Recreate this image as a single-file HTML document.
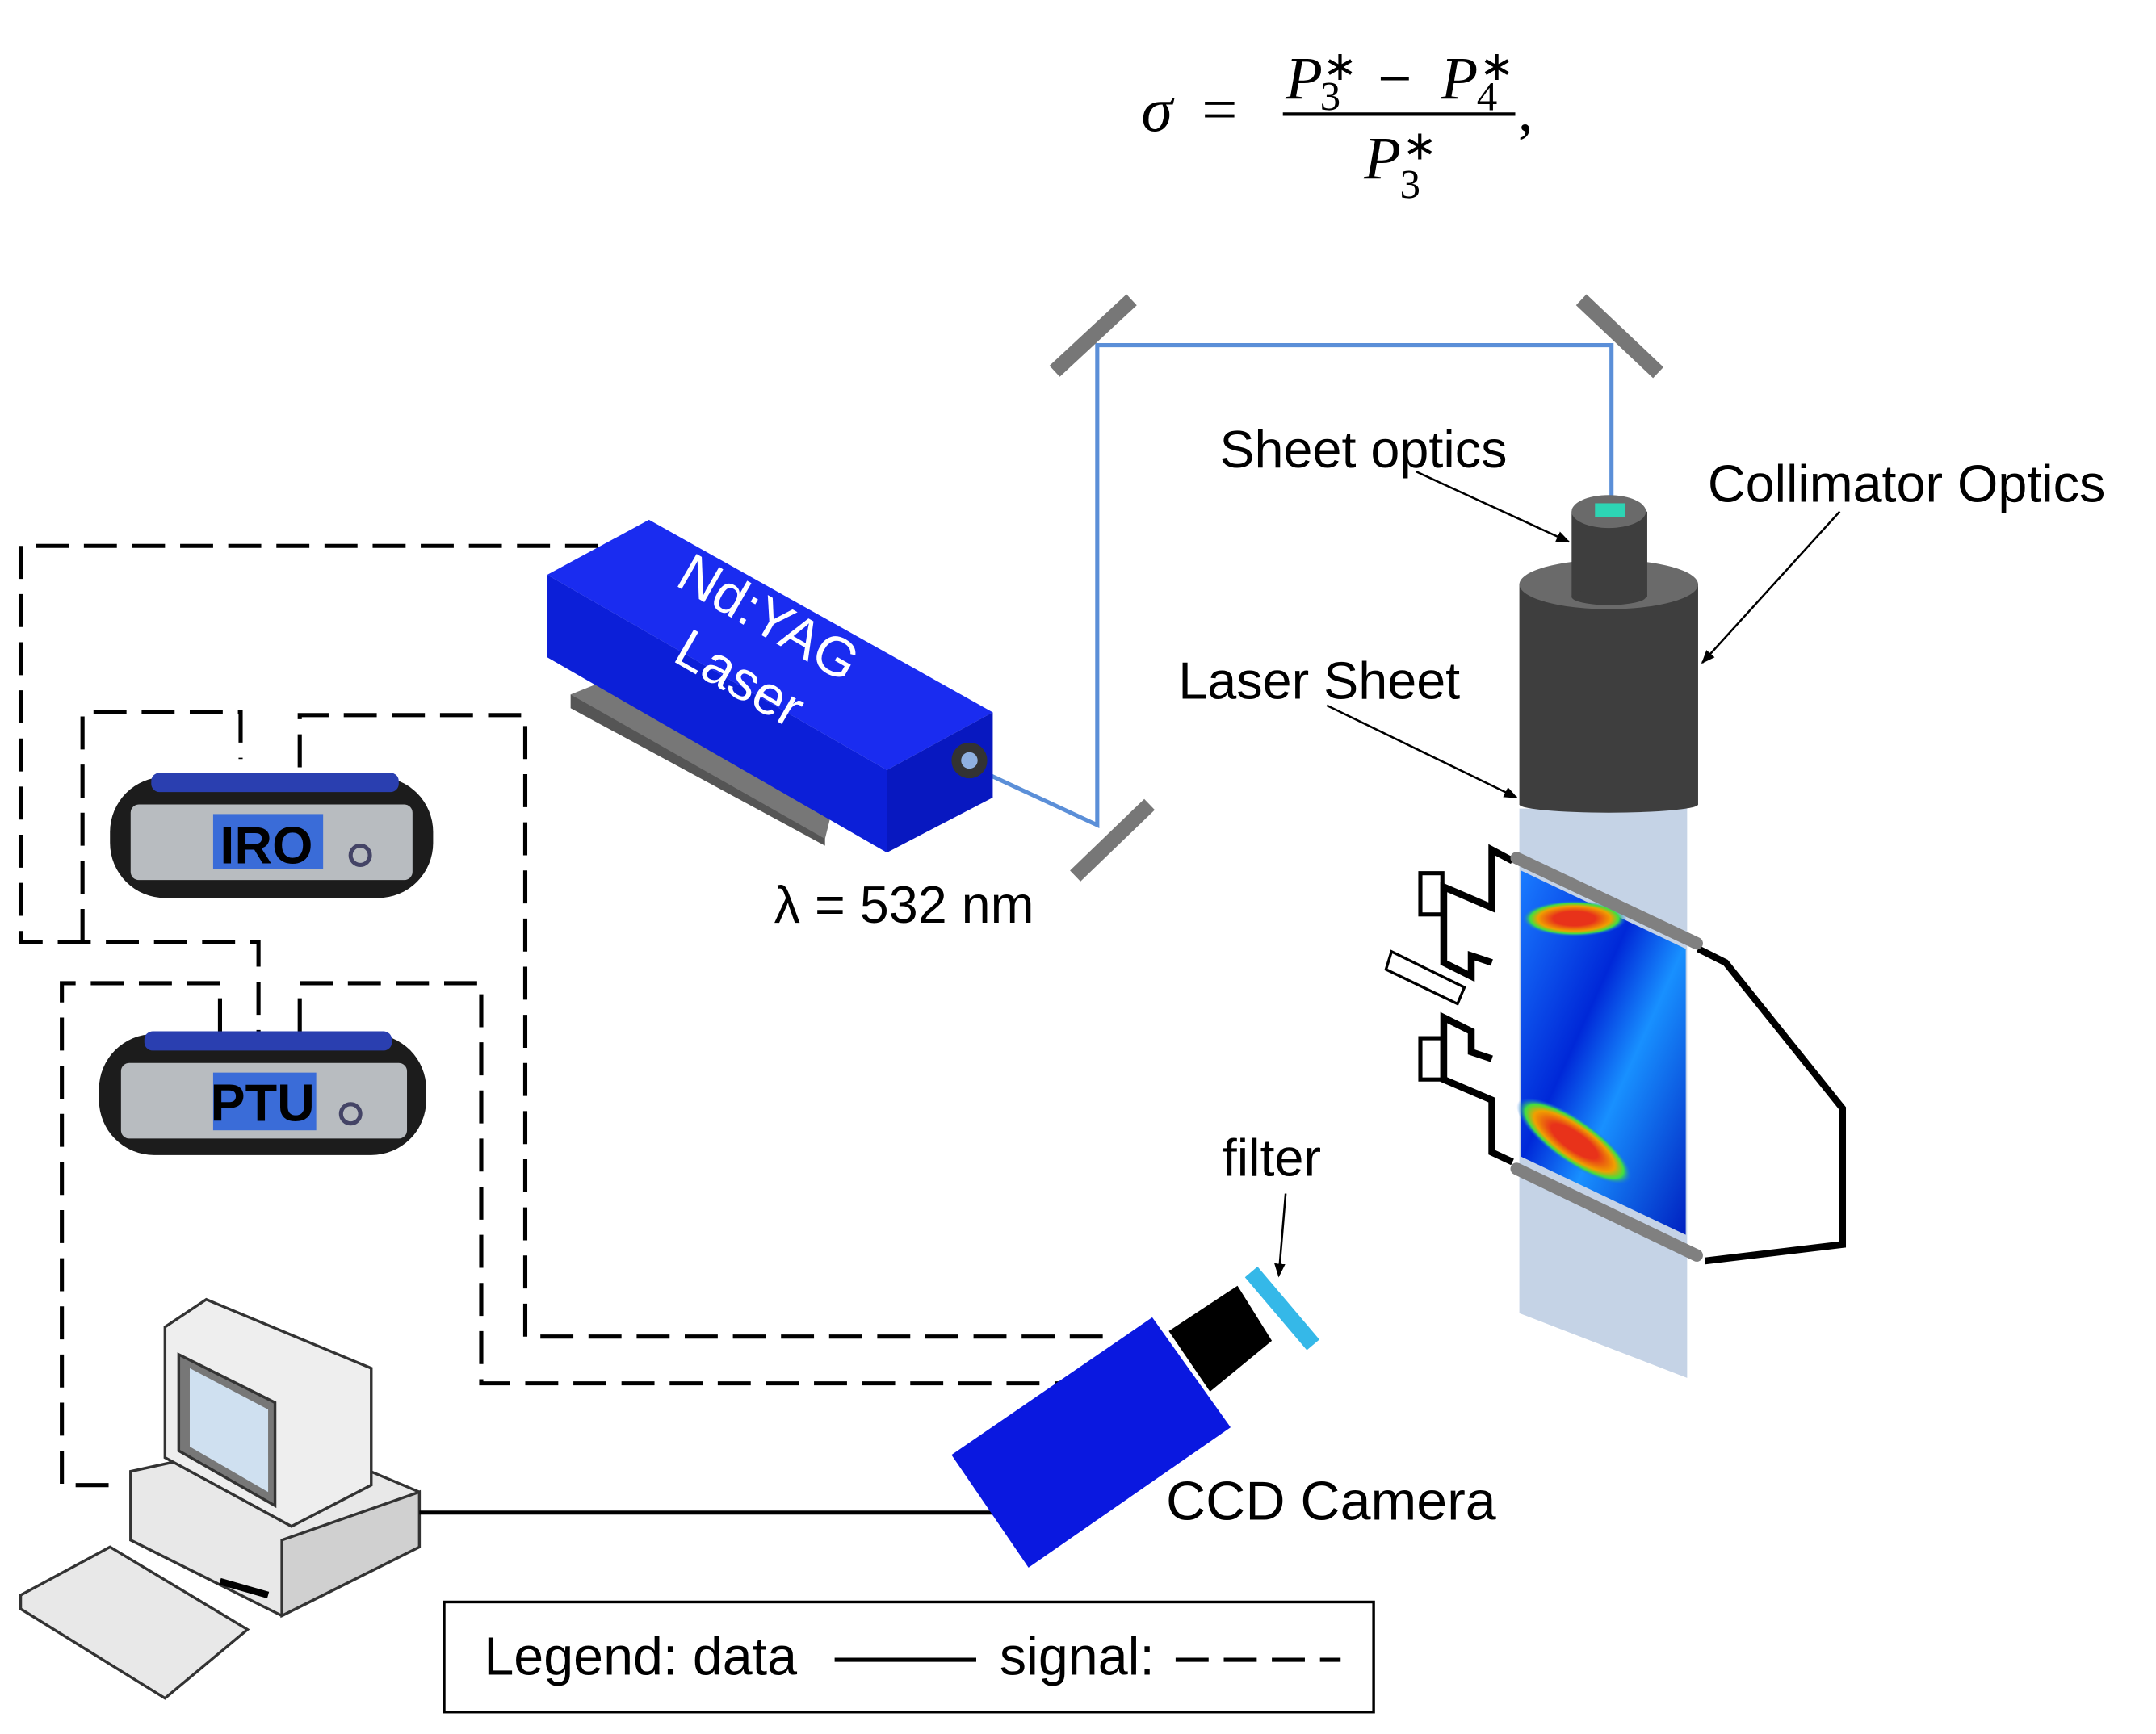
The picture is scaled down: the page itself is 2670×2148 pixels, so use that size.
<!DOCTYPE html>
<html><head><meta charset="utf-8"><style>
html,body{margin:0;padding:0;background:#fff}
svg{display:block}
text{font-family:"Liberation Sans",sans-serif}
text.m{font-family:"Liberation Serif",serif}
</style></head><body>
<svg width="2670" height="2148" viewBox="0 0 1568 1261" preserveAspectRatio="none" xmlns="http://www.w3.org/2000/svg">
<defs>
<marker id="ah" markerWidth="10" markerHeight="8" refX="9" refY="4" orient="auto" markerUnits="userSpaceOnUse">
<path d="M0,0 L10,4 L0,8 z" fill="#000"/></marker>
<radialGradient id="red1" cx="0.5" cy="0.5" r="0.5"><stop offset="0.4" stop-color="#e8321a"/><stop offset="0.7" stop-color="#f0a000"/><stop offset="0.85" stop-color="#40e040"/><stop offset="1" stop-color="#1060ff" stop-opacity="0"/></radialGradient>
<linearGradient id="flow" x1="0" y1="0" x2="1" y2="1"><stop offset="0" stop-color="#1a7cff"/><stop offset="0.4" stop-color="#0028d8"/><stop offset="0.6" stop-color="#1890ff"/><stop offset="1" stop-color="#0020c0"/></linearGradient>
</defs>

<!-- formula -->
<text class="m" x="830" y="95" font-style="italic" font-size="46">σ</text>
<text class="m" x="874" y="95" font-size="46">=</text>
<text class="m" x="935" y="72" font-style="italic" font-size="44">P</text>
<text class="m" x="962" y="58" font-size="30">∗</text>
<text class="m" x="960" y="80" font-size="30">3</text>
<text class="m" x="1002" y="72" font-size="44">−</text>
<text class="m" x="1048" y="72" font-style="italic" font-size="44">P</text>
<text class="m" x="1076" y="58" font-size="30">∗</text>
<text class="m" x="1074" y="80" font-size="30">4</text>
<line x1="933" y1="83" x2="1102" y2="83" stroke="#000" stroke-width="2.5"/>
<text class="m" x="992" y="130" font-style="italic" font-size="44">P</text>
<text class="m" x="1020" y="116" font-size="30">∗</text>
<text class="m" x="1018" y="144" font-size="30">3</text>
<text class="m" x="1104" y="95" font-size="44">,</text>

<!-- beam -->
<polyline points="712,560 798,600 798,251 1172,251 1172,370" fill="none" stroke="#5b8fd8" stroke-width="3"/>
<g stroke="#777" stroke-width="11">
<line x1="767" y1="270" x2="823" y2="218"/>
<line x1="1150" y1="218" x2="1206" y2="271"/>
<line x1="782" y1="637" x2="836" y2="585"/>
</g>

<!-- laser sheet -->
<polygon points="1105,588 1227,588 1227,1002 1105,955" fill="#c5d3e6"/>
<rect x="1105" y="425" width="130" height="160" fill="#3e3e3e"/>
<ellipse cx="1170" cy="585" rx="65" ry="6" fill="#3e3e3e"/>
<ellipse cx="1170" cy="425" rx="65" ry="18" fill="#6a6a6a"/>
<rect x="1143" y="372" width="55" height="62" fill="#3e3e3e"/>
<ellipse cx="1170" cy="434" rx="27" ry="6" fill="#3e3e3e"/>
<ellipse cx="1170" cy="372" rx="27" ry="12" fill="#6a6a6a"/>
<rect x="1160" y="366" width="22" height="10" fill="#2dd4b4"/>

<!-- combustor -->
<polygon points="1106,633 1226,690 1226,898 1106,841" fill="url(#flow)"/>
<ellipse cx="1145" cy="668" rx="38" ry="13" fill="url(#red1)"/>
<ellipse cx="1145" cy="830" rx="50" ry="16" transform="rotate(35 1145 830)" fill="url(#red1)"/>
<polyline points="1235,690 1255,700 1340,806 1340,905 1240,917" fill="none" stroke="#000" stroke-width="5"/>
<polyline points="1100,626 1085,618 1085,660 1050,645 1050,700 1070,710 1070,695 1085,700" fill="none" stroke="#000" stroke-width="5"/>
<polyline points="1100,845 1085,838 1085,800 1050,785 1050,740 1070,750 1070,765 1085,770" fill="none" stroke="#000" stroke-width="5"/>
<rect x="1033" y="635" width="16" height="30" fill="none" stroke="#000" stroke-width="3"/>
<rect x="1033" y="755" width="16" height="30" fill="none" stroke="#000" stroke-width="3"/>
<polygon points="1012,692 1008,705 1060,730 1065,718" fill="none" stroke="#000" stroke-width="2"/>
<g stroke="#808080" stroke-width="9" stroke-linecap="round">
<line x1="1103" y1="624" x2="1234" y2="686"/>
<line x1="1103" y1="850" x2="1234" y2="913"/>
</g>

<!-- laser box -->
<polygon points="415,505 600,605 600,615 415,515" fill="#555"/>
<polygon points="415,505 440,495 605,590 600,610" fill="#777"/>
<polygon points="398,418 472,378 722,518 645,560" fill="#1a2cf0"/>
<polygon points="398,418 645,560 645,620 398,478" fill="#0c1fd8"/>
<polygon points="645,560 722,518 722,580 645,620" fill="#0818c0"/>
<circle cx="705" cy="553" r="13" fill="#333"/>
<circle cx="705" cy="553" r="6" fill="#8fb0e0"/>
<text x="490" y="425" fill="#fff" font-size="40" transform="rotate(30 490 425)">Nd:YAG</text>
<text x="488" y="480" fill="#fff" font-size="40" transform="rotate(30 488 480)">Laser</text>
<text x="563" y="671" font-size="38">λ = 532 nm</text>

<!-- dashed signal lines -->
<g fill="none" stroke="#000" stroke-width="3" stroke-dasharray="24,11">
<polyline points="435,397 15,397 15,685 188,685 188,752"/>
<polyline points="60,685 60,518 175,518 175,552"/>
<polyline points="218,558 218,520 382,520 382,972 812,972"/>
<polyline points="160,750 160,715 45,715 45,1080 82,1080"/>
<polyline points="218,750 218,715 350,715 350,1006 772,1006"/>
</g>

<!-- IRO -->
<rect x="80" y="565" width="235" height="88" rx="40" fill="#1c1c1c"/>
<rect x="110" y="562" width="180" height="14" rx="6" fill="#2a3fb0"/>
<rect x="95" y="585" width="205" height="55" rx="6" fill="#b8bcc0"/>
<rect x="155" y="592" width="80" height="40" fill="#3a6cd8"/>
<text x="160" y="628" font-size="38" font-weight="bold" fill="#000">IRO</text>
<circle cx="262" cy="622" r="7" fill="none" stroke="#446" stroke-width="3"/>
<!-- PTU -->
<rect x="72" y="752" width="238" height="88" rx="40" fill="#1c1c1c"/>
<rect x="105" y="750" width="180" height="14" rx="6" fill="#2a3fb0"/>
<rect x="88" y="773" width="208" height="55" rx="6" fill="#b8bcc0"/>
<rect x="155" y="780" width="75" height="42" fill="#3a6cd8"/>
<text x="153" y="815" font-size="38" font-weight="bold" fill="#000">PTU</text>
<circle cx="255" cy="810" r="7" fill="none" stroke="#446" stroke-width="3"/>

<!-- computer -->
<polygon points="95,1070 210,1045 305,1085 305,1125 205,1175 95,1120" fill="#e8e8e8" stroke="#333" stroke-width="2"/>
<polygon points="205,1120 305,1085 305,1125 205,1175" fill="#d0d0d0" stroke="#333" stroke-width="2"/>
<polygon points="120,965 150,945 270,995 270,1080 212,1110 120,1060" fill="#eee" stroke="#333" stroke-width="2"/>
<polygon points="130,985 200,1020 200,1095 130,1055" fill="#777" stroke="#333" stroke-width="2"/>
<polygon points="138,995 195,1025 195,1085 138,1052" fill="#cfe0f0"/>
<polygon points="15,1160 80,1125 180,1185 120,1235 15,1170" fill="#e8e8e8" stroke="#333" stroke-width="2"/>
<line x1="160" y1="1150" x2="195" y2="1160" stroke="#000" stroke-width="5"/>

<line x1="305" y1="1100" x2="722" y2="1100" stroke="#000" stroke-width="3"/>

<!-- camera -->
<polygon points="692,1058 838,958 895,1038 748,1140" fill="#0a18e0"/>
<polygon points="850,968 900,935 925,975 880,1012" fill="#000"/>
<line x1="910" y1="925" x2="955" y2="978" stroke="#35b8e8" stroke-width="12"/>

<!-- labels -->
<text x="887" y="340" font-size="38">Sheet optics</text>
<line x1="1030" y1="343" x2="1141" y2="394" stroke="#000" stroke-width="1.5" marker-end="url(#ah)"/>
<text x="1242" y="365" font-size="38">Collimator Optics</text>
<line x1="1338" y1="372" x2="1238" y2="482" stroke="#000" stroke-width="1.5" marker-end="url(#ah)"/>
<text x="857" y="508" font-size="38">Laser Sheet</text>
<line x1="965" y1="513" x2="1103" y2="580" stroke="#000" stroke-width="1.5" marker-end="url(#ah)"/>
<text x="889" y="855" font-size="38">filter</text>
<line x1="935" y1="868" x2="930" y2="928" stroke="#000" stroke-width="1.5" marker-end="url(#ah)"/>
<text x="848" y="1105" font-size="40">CCD Camera</text>

<!-- legend -->
<rect x="323" y="1165" width="676" height="80" fill="#fff" stroke="#000" stroke-width="2"/>
<text x="352" y="1218" font-size="39">Legend: data</text>
<line x1="607" y1="1207" x2="710" y2="1207" stroke="#000" stroke-width="3"/>
<text x="727" y="1218" font-size="39">signal:</text>
<line x1="855" y1="1207" x2="975" y2="1207" stroke="#000" stroke-width="3" stroke-dasharray="24,11"/>
</svg>
</body></html>
